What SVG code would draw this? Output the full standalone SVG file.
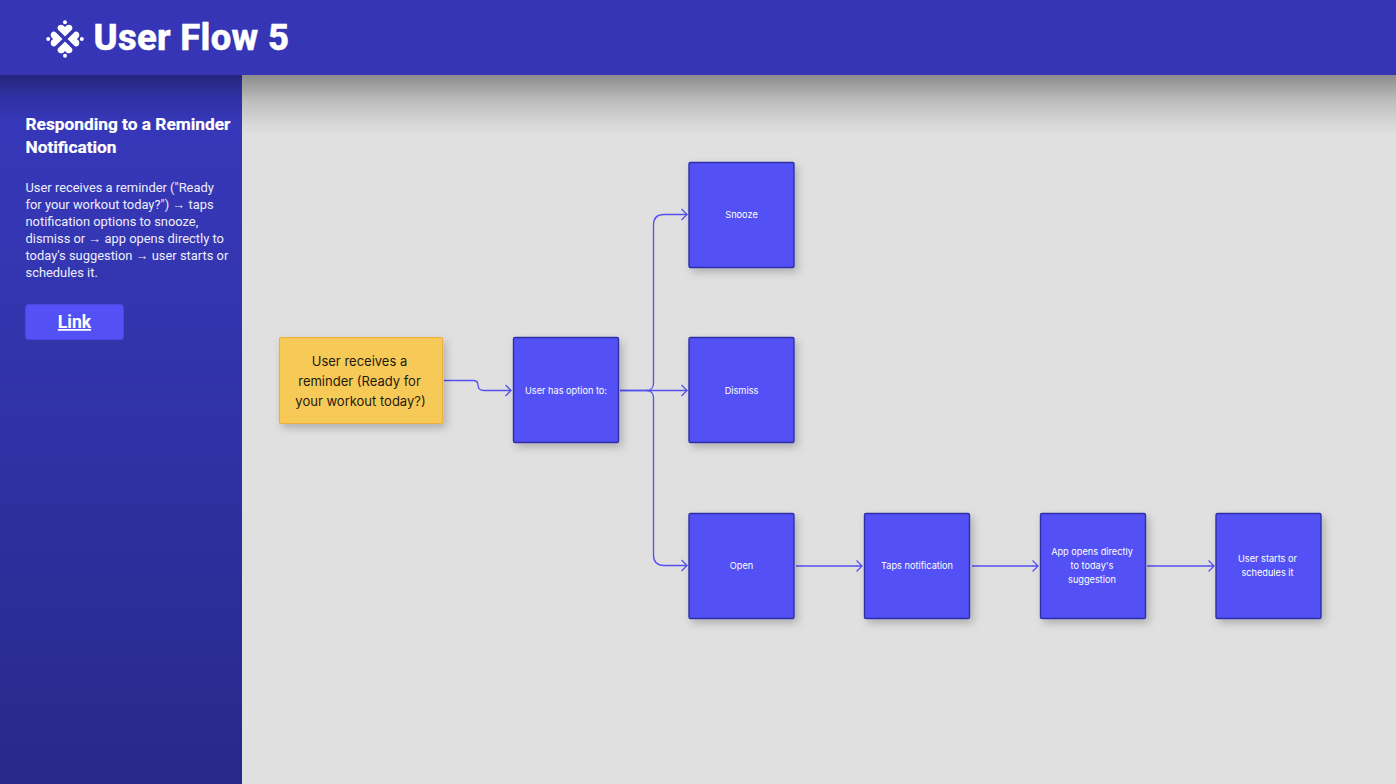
<svg xmlns="http://www.w3.org/2000/svg" width="1396" height="784" viewBox="0 0 1396 784">
<defs>
<linearGradient id="side" x1="0" y1="0" x2="0" y2="1"><stop offset="0" stop-color="#3738bb"/><stop offset="0.3" stop-color="#3335b0"/><stop offset="1" stop-color="#28288a"/></linearGradient>
<linearGradient id="hs" x1="0" y1="0" x2="0" y2="1"><stop offset="0" stop-color="#000" stop-opacity="0.38"/><stop offset="0.42" stop-color="#000" stop-opacity="0.16"/><stop offset="0.83" stop-color="#000" stop-opacity="0.035"/><stop offset="1" stop-color="#000" stop-opacity="0"/></linearGradient>
<filter id="sh" x="-20%" y="-20%" width="150%" height="150%"><feDropShadow dx="3" dy="4" stdDeviation="4" flood-color="#000" flood-opacity="0.22"/></filter>
<marker id="arr" markerUnits="userSpaceOnUse" markerWidth="10" markerHeight="14" refX="7.5" refY="7" orient="auto"><path d="M2 1.500L7.500 7L2 12.500" fill="none" stroke="#5351f0" stroke-width="1.3"/></marker>
<path id="heart" d="M0 -2.500L-6.600 -9.100C-8.400 -11-7.200 -14.300-4 -14.300C-2.200 -14.300-.8 -13.300 0 -11.700C.8 -13.300 2.200 -14.300 4 -14.300C7.200 -14.300 8.400 -11 6.600 -9.100Z" fill="#fff"/>
<style>
.n{fill:#5351f5;stroke:#2f2ea6;stroke-width:1.4;filter:url(#sh)}
.t{font-family:Inter,"Liberation Sans",sans-serif;font-size:9.200px;fill:#fff;text-anchor:middle}
.c{fill:none;stroke:#5351f0;stroke-width:1.3;marker-end:url(#arr)}
.s{font-family:Roboto,"Liberation Sans",sans-serif;font-size:12.900px;fill:#eeeefb}
.h{font-family:Roboto,"Liberation Sans",sans-serif;font-size:17.300px;font-weight:700;fill:#fff;stroke:#fff;stroke-width:.2px}
</style>
</defs>
<rect width="1396" height="784" fill="#e0e0e0"/>
<rect x="242" y="75" width="1154" height="60" fill="url(#hs)"/>
<g id="sidebar">
<rect x="0" y="75" width="242" height="709" fill="url(#side)"/>
<rect x="0" y="75" width="242" height="50" fill="url(#hs)" opacity="0.85"/>
<text class="h" x="25.500" y="130">Responding to a Reminder</text>
<text class="h" x="25.500" y="152.500">Notification</text>
<text class="s" x="25.500" y="192">User receives a reminder ("Ready</text>
<text class="s" x="25.500" y="209">for your workout today?") → taps</text>
<text class="s" x="25.500" y="226">notification options to snooze,</text>
<text class="s" x="25.500" y="243">dismiss or → app opens directly to</text>
<text class="s" x="25.500" y="260">today's suggestion → user starts or</text>
<text class="s" x="25.500" y="276.500">schedules it.</text>
</g>
<g id="link">
<rect x="25.500" y="304.500" width="98" height="35" rx="3" fill="#5351f5" stroke="#4a48dd"/>
<text x="74.500" y="328" font-family="Roboto,'Liberation Sans',sans-serif" font-size="17.500" font-weight="700" fill="#fff" text-anchor="middle" text-decoration="underline">Link</text>
</g>
<g id="header">
<rect width="1396" height="75" fill="#3535b6"/>
<g id="logo" transform="translate(65 39)">
<use href="#heart"/><use href="#heart" transform="rotate(90)"/><use href="#heart" transform="rotate(180)"/><use href="#heart" transform="rotate(270)"/>
<circle cx="0" cy="-16.800" r="2" fill="#fff"/><circle cx="0" cy="16.800" r="2" fill="#fff"/><circle cx="-16.800" cy="0" r="2" fill="#fff"/><circle cx="16.800" cy="0" r="2" fill="#fff"/>
</g>
<text x="93.500" y="50" font-family="Roboto,'Liberation Sans',sans-serif" font-size="36.500" font-weight="800" fill="#fff" stroke="#fff" stroke-width="0.400" textLength="195.500" lengthAdjust="spacing">User Flow 5</text>
</g>
<g id="connectors">
<path class="c" d="M444 380.500H473C477 380.500 478 382.500 478 385C478 388.500 480 390.500 484 390.500H511"/>
<path class="c" d="M620 390.500H647C651 390.500 653.500 387.500 653.500 383V225C653.500 218 657 214.500 664 214.500H687"/>
<path class="c" d="M620 390.500H687"/>
<path class="c" d="M647 390.500C651 390.500 653.500 393.500 653.500 398V555C653.500 562 657 565.500 664 565.500H687"/>
<path class="c" d="M796 566H862"/>
<path class="c" d="M972 566H1038"/>
<path class="c" d="M1147 566H1214"/>
</g>
<g id="n-reminder">
<rect x="279.500" y="337.500" width="163" height="86" rx="1.500" fill="#f7ca58" stroke="#eeae3a" stroke-width="1.200" filter="url(#sh)"/>
<g font-family="Inter,'Liberation Sans',sans-serif" font-size="13" fill="#1f1a10" text-anchor="middle">
<text x="359.500" y="365.500">User receives a</text><text x="359.500" y="385.500">reminder (Ready for</text><text x="360.500" y="405.500">your workout today?)</text></g>
</g>
<g id="n-option"><rect class="n" x="513.500" y="337.500" width="105" height="105" rx="1.500"/><text class="t" x="566" y="393.800">User has option to:</text></g>
<g id="n-snooze"><rect class="n" x="689" y="162.500" width="105" height="105" rx="1.500"/><text class="t" x="741.500" y="218">Snooze</text></g>
<g id="n-dismiss"><rect class="n" x="689" y="337.500" width="105" height="105" rx="1.500"/><text class="t" x="741.500" y="393.800">Dismiss</text></g>
<g id="n-open"><rect class="n" x="689" y="513.500" width="105" height="105" rx="1.500"/><text class="t" x="741.500" y="569">Open</text></g>
<g id="n-taps"><rect class="n" x="864.500" y="513.500" width="105" height="105" rx="1.500"/><text class="t" x="917" y="569">Taps notification</text></g>
<g id="n-app"><rect class="n" x="1040.500" y="513.500" width="105" height="105" rx="1.500"/><text class="t" x="1092" y="555">App opens directly</text><text class="t" x="1092" y="569">to today's</text><text class="t" x="1092" y="583">suggestion</text></g>
<g id="n-user"><rect class="n" x="1216" y="513.500" width="105" height="105" rx="1.500"/><text class="t" x="1267.500" y="562">User starts or</text><text class="t" x="1267.500" y="576">schedules it</text></g>
</svg>
